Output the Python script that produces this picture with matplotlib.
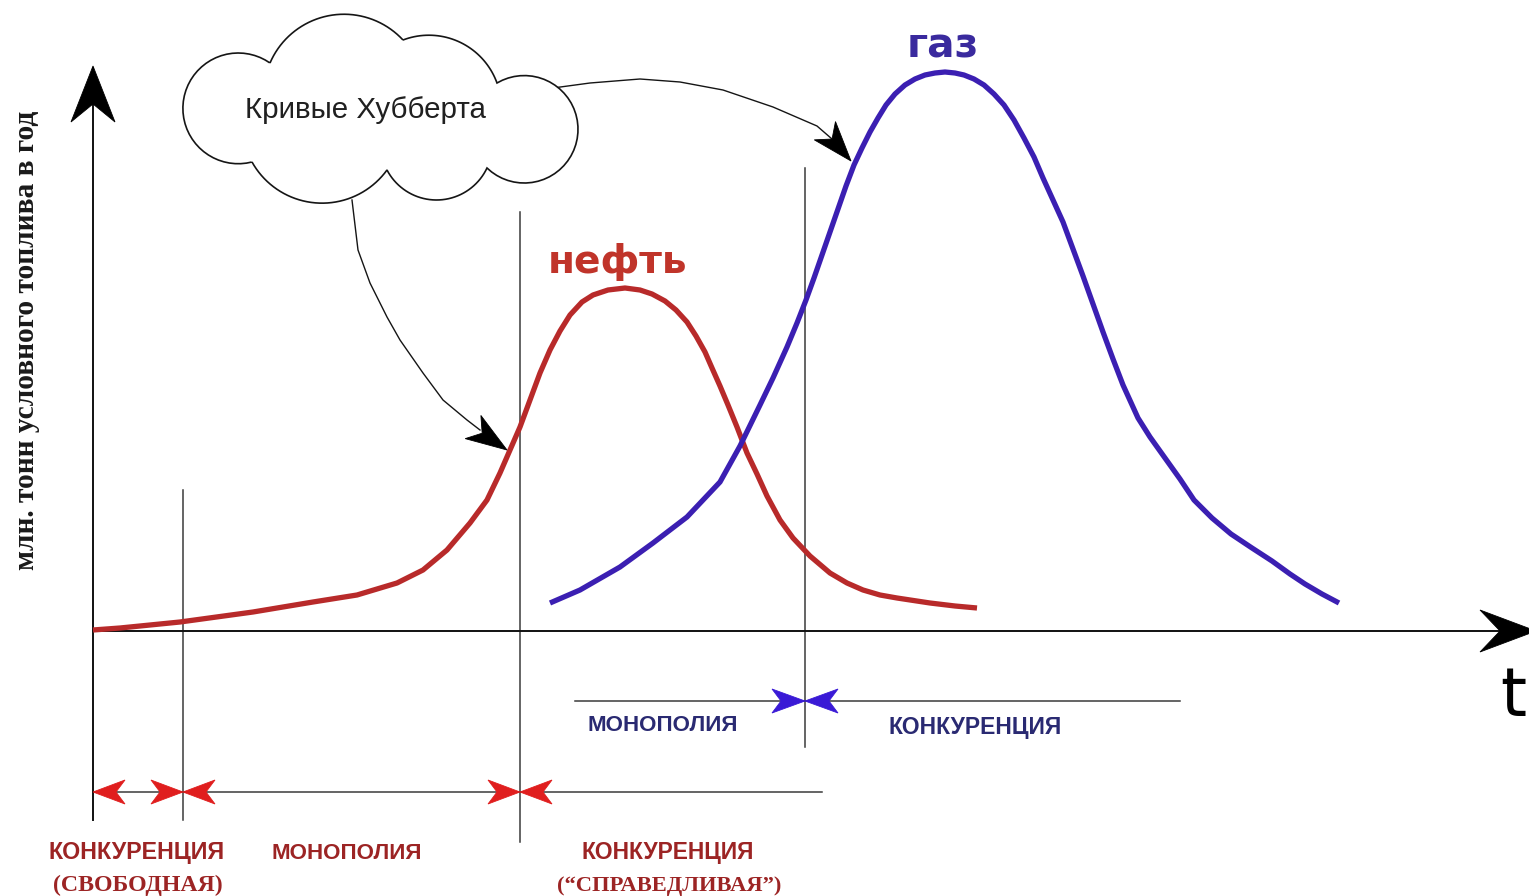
import numpy as np
import matplotlib
matplotlib.use("Agg")
import matplotlib.pyplot as plt
from matplotlib.patches import Polygon

# ---------------- data (time units, output units) ----------------
oil_t = [0.0, 2.7, 8.7, 16.0, 22.0, 26.4, 30.4, 33.0, 35.4, 37.7,
         39.4, 40.7, 41.7, 42.7, 43.7, 44.7, 45.7, 46.7, 47.7, 48.9,
         50.0, 51.5, 53.2, 54.7, 55.9, 57.2, 58.3, 59.4, 60.3, 61.2,
         61.9, 62.7, 63.5, 64.4, 65.4, 66.4, 67.4, 68.7, 70.0, 71.7,
         73.7, 75.4, 77.0, 78.7, 80.4, 83.7, 86.2, 88.4]
oil_v = [0.2, 0.6, 1.8, 3.8, 5.8, 7.2, 9.6, 12.2, 16.2, 21.6,
         26.2, 31.6, 36.2, 40.8, 46.2, 51.6, 56.2, 60.0, 63.2, 65.8,
         67.2, 68.2, 68.6, 68.2, 67.4, 66.0, 64.2, 61.8, 59.0, 55.8,
         52.6, 49.0, 45.2, 40.8, 35.6, 31.4, 27.0, 22.2, 18.6, 15.0,
         11.6, 9.6, 8.2, 7.2, 6.6, 5.6, 5.0, 4.6]
gas_t = [45.7, 48.7, 52.7, 56.0, 59.4, 62.7, 64.7, 66.7, 68.0, 69.4,
         70.4, 71.3, 72.1, 72.9, 73.7, 74.5, 75.3, 76.1, 76.9, 77.7,
         78.5, 79.3, 80.2, 81.2, 82.2, 83.2, 84.2, 85.2, 86.2, 87.1,
         88.1, 89.1, 90.1, 91.1, 92.1, 93.1, 94.1, 95.0, 96.0, 97.0,
         98.0, 99.0, 100.0, 101.0, 102.0, 103.0, 104.5, 105.7, 107.2, 108.7,
         110.1, 111.9, 113.8, 115.9, 117.9, 119.7, 121.2, 122.9, 124.6]
gas_v = [5.6, 8.2, 12.8, 17.6, 22.8, 29.8, 37.0, 45.2, 50.6, 56.8,
         61.6, 66.2, 70.6, 75.2, 79.8, 84.4, 89.0, 93.2, 96.6, 99.8,
         102.6, 105.2, 107.4, 109.2, 110.4, 111.2, 111.6, 111.8, 111.6, 111.2,
         110.4, 109.2, 107.4, 105.2, 102.2, 98.6, 94.8, 90.6, 86.2, 81.8,
         76.4, 71.0, 65.4, 59.8, 54.4, 49.2, 42.6, 38.8, 34.6, 30.4,
         26.2, 22.6, 19.4, 16.6, 14.0, 11.4, 9.4, 7.4, 5.6]

# regime boundaries on the time axis
oil_edges = [0.0, 9.0, 42.7]      # start / end of free competition / end of monopoly
gas_edge = 71.2                   # end of gas monopoly

oil_name = "нефть"
gas_name = "газ"
oil_regimes = ["КОНКУРЕНЦИЯ\n(СВОБОДНАЯ)", "МОНОПОЛИЯ", "КОНКУРЕНЦИЯ\n(“СПРАВЕДЛИВАЯ”)"]
gas_regimes = ["МОНОПОЛИЯ", "КОНКУРЕНЦИЯ"]
y_label = "млн. тонн условного топлива в год"
x_label = "t"
cloud_label = "Кривые Хубберта"

# ---------------- figure ----------------
W, H, DPI = 1529, 896, 100
fig = plt.figure(figsize=(W / DPI, H / DPI), dpi=DPI)
fig.patch.set_facecolor("white")

ax = fig.add_axes([0, 0, 1, 1])
ax.set_xlim(-9.3, 143.6)
ax.set_ylim(-53.0, 126.2)
ax.axis("off")

ov = fig.add_axes([0, 0, 1, 1])
ov.set_xlim(0, W)
ov.set_ylim(H, 0)
ov.axis("off")
ov.patch.set_facecolor("none")

renderer = fig.canvas.get_renderer()


def d2p(t, v):
    p = ax.transData.transform((t, v))
    return ov.transData.inverted().transform(p)


def stealth(tip, direction, length, hw, notch, color, z=6):
    d = np.asarray(direction, float)
    d = d / np.linalg.norm(d)
    n = np.array([-d[1], d[0]])
    tip = np.asarray(tip, float)
    back = tip - d * length
    pts = [tip, back + n * hw, tip - d * (length - notch), back - n * hw]
    ov.add_patch(Polygon(pts, closed=True, fc=color, ec=color, lw=0.6, zorder=z))


def fit_text(axx, x, y, s, target, measure="w", size0=20, **kw):
    t = axx.text(x, y, s, fontsize=size0, **kw)
    bb = t.get_window_extent(renderer=renderer)
    cur = bb.width if measure == "w" else bb.height
    t.set_fontsize(size0 * target / cur)
    return t


AX_C = "#111111"
DIV_C = "#3a3a3a"
OIL_C = "#b82a2a"
GAS_C = "#3b1fb2"
RED_HEAD = "#e01e1e"
BLUE_HEAD = "#3a1ad6"
RED_TXT = "#9c2424"
BLUE_TXT = "#2a2a72"

# ---------------- axes ----------------
ax.plot([0, 0], [-37.8, 112.6], color=AX_C, lw=1.4, zorder=3)
ax.plot([0, 143.6], [0, 0], color=AX_C, lw=1.4, zorder=3)
tx, ty = d2p(0, 112.6)
stealth((tx, ty - 2), (0, -1), 56, 22, 18, "black")
tx, ty = d2p(143.6, 0)
stealth((tx + 7, ty), (1, 0), 56, 21, 20, "black")

# regime dividers
ax.plot([oil_edges[1]] * 2, [-37.8, 28.2], color=DIV_C, lw=1.1, zorder=2)
ax.plot([oil_edges[2]] * 2, [-42.2, 83.8], color=DIV_C, lw=1.1, zorder=2)
ax.plot([gas_edge] * 2, [-23.2, 92.6], color=DIV_C, lw=1.1, zorder=2)

# regime rows
oil_row, gas_row = -32.2, -14.0
ax.plot([oil_edges[0], 72.9], [oil_row, oil_row], color=DIV_C, lw=1.1, zorder=2)
ax.plot([48.2, 108.7], [gas_row, gas_row], color=DIV_C, lw=1.1, zorder=2)

# bow-tie markers at regime boundaries
p = d2p(oil_edges[0], oil_row)
stealth(p, (-1, 0), 32, 12, 9, RED_HEAD)
for e in oil_edges[1:]:
    p = d2p(e, oil_row)
    stealth(p, (1, 0), 32, 12, 9, RED_HEAD)
    stealth(p, (-1, 0), 32, 12, 9, RED_HEAD)
p = d2p(gas_edge, gas_row)
stealth(p, (1, 0), 33, 12, 9, BLUE_HEAD)
stealth(p, (-1, 0), 33, 12, 9, BLUE_HEAD)

# ---------------- curves ----------------
ax.plot(oil_t, oil_v, color=OIL_C, lw=3.8, solid_capstyle="butt", solid_joinstyle="round", zorder=4)
ax.plot(gas_t, gas_v, color=GAS_C, lw=3.8, solid_capstyle="butt", solid_joinstyle="round", zorder=5)

# curve names
fit_text(ov, 618, 273, oil_name, 140, color="#c0342a", fontweight="bold",
         family=["DejaVu Sans"], ha="center", va="baseline", zorder=7)
fit_text(ov, 943, 58, gas_name, 72, color="#3a2a9e", fontweight="bold",
         family=["DejaVu Sans"], ha="center", va="baseline", zorder=7)

# regime labels
cond = ["Liberation Sans", "DejaVu Sans"]
serif = ["Liberation Serif", "DejaVu Serif"]
oil_top = [r.split("\n")[0] for r in oil_regimes]
oil_sub = [r.split("\n")[1] if "\n" in r else None for r in oil_regimes]
oil_cx = [137, 347, 668]
oil_tw = [177, 150, 173]
oil_sw = [170, None, 224]
for s, sub, cx, w, sw in zip(oil_top, oil_sub, oil_cx, oil_tw, oil_sw):
    fit_text(ov, cx, 859, s, w, color=RED_TXT, fontweight="bold", family=cond,
             ha="center", va="baseline")
    if sub:
        fit_text(ov, cx + 1, 891, sub, sw, color=RED_TXT, fontweight="bold", family=serif,
                 ha="center", va="baseline")
for s, cx, cy, w in zip(gas_regimes, [663, 975], [731, 734], [150, 174]):
    fit_text(ov, cx, cy, s, w, color=BLUE_TXT, fontweight="bold", family=cond,
             ha="center", va="baseline")

# axis labels
fit_text(ov, 27, 340, y_label, 460, measure="h", color="#1a1a1a", fontweight="bold",
         family=serif, rotation=90, ha="center", va="center")
ov.text(1526, 716, x_label, fontsize=48, color="black", family=["DejaVu Sans"],
        ha="right", va="baseline")

# ---------------- cloud callout ----------------
def arc3(p1, pm, p2, n=40):
    p1, pm, p2 = (np.asarray(q, float) for q in (p1, pm, p2))
    ax_, ay_ = p1
    bx, by = pm
    cx, cy = p2
    d = 2 * (ax_ * (by - cy) + bx * (cy - ay_) + cx * (ay_ - by))
    ux = ((ax_**2 + ay_**2) * (by - cy) + (bx**2 + by**2) * (cy - ay_) + (cx**2 + cy**2) * (ay_ - by)) / d
    uy = ((ax_**2 + ay_**2) * (cx - bx) + (bx**2 + by**2) * (ax_ - cx) + (cx**2 + cy**2) * (bx - ax_)) / d
    r = np.hypot(ax_ - ux, ay_ - uy)
    a1 = np.arctan2(ay_ - uy, ax_ - ux)
    am = np.arctan2(by - uy, bx - ux)
    a2 = np.arctan2(cy - uy, cx - ux)
    tau = 2 * np.pi
    d2 = (a2 - a1) % tau
    dm = (am - a1) % tau
    if dm < d2:
        ang = np.linspace(a1, a1 + d2, n)
    else:
        ang = np.linspace(a1, a1 - (tau - d2), n)
    return np.column_stack([ux + r * np.cos(ang), uy + r * np.sin(ang)])


A, B, C, D, E, F = (270, 63), (403, 40), (497, 83), (487, 168), (387, 170), (252, 162)
bumps = [(A, (333, 15), B), (B, (452, 39), C), (C, (578, 128), D),
         (D, (437, 200), E), (E, (327, 203), F), (F, (183, 112), A)]
outline = np.vstack([arc3(*b) for b in bumps])
ov.add_patch(Polygon(outline, closed=True, fc="white", ec="#151515", lw=1.2, zorder=8))
fit_text(ov, 365, 118, cloud_label, 240, color="#202020", family=["Liberation Sans", "DejaVu Sans"],
         ha="center", va="baseline", zorder=9)

# callout arrows
gas_shaft = np.array([(553, 88), (590, 83), (640, 79), (680, 82), (723, 90),
                      (773, 107), (817, 126), (832, 139)])
oil_shaft = np.array([(352, 200), (358, 250), (370, 283), (387, 317), (400, 340),
                      (423, 373), (443, 400), (467, 420), (480, 430)])
ov.plot(gas_shaft[:, 0], gas_shaft[:, 1], color="#151515", lw=1.0, zorder=7)
ov.plot(oil_shaft[:, 0], oil_shaft[:, 1], color="#151515", lw=1.0, zorder=7)
stealth((851, 161), (25, 29), 40, 14, 11, "black", z=7)
stealth((507, 450), (34, 23), 41, 14, 11, "black", z=7)

fig.savefig("out.png", dpi=DPI, facecolor="white")
